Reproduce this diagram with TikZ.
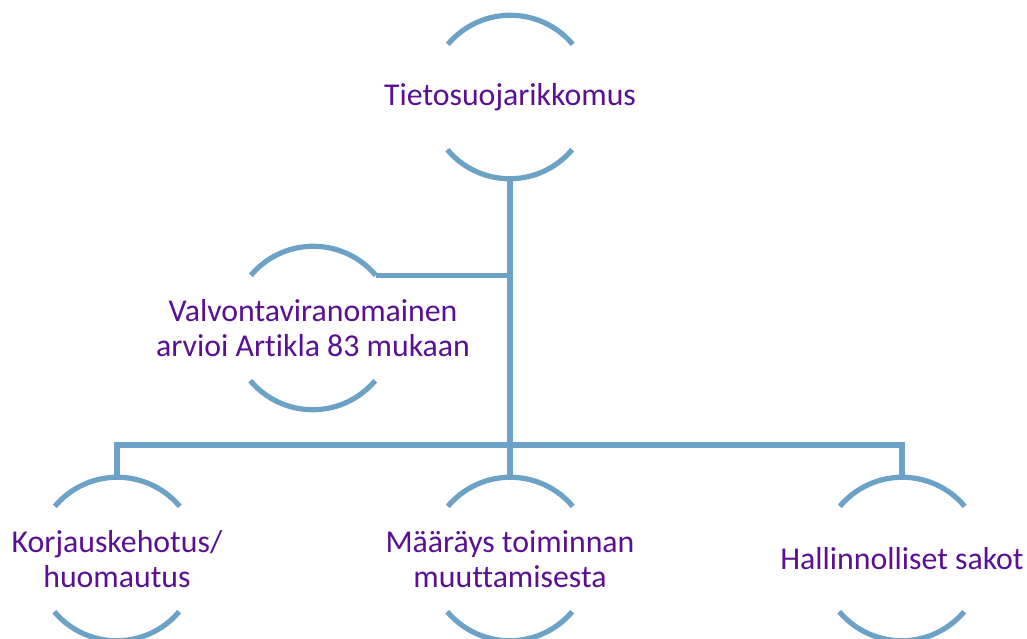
\documentclass[tikz,border=0pt]{standalone}
\usepackage{fontspec}
\setmainfont{Carlito}[Ligatures=NoCommon]
\usepackage{tikz}
\usetikzlibrary{calc}
\definecolor{RingBlue}{RGB}{107,162,197}
\definecolor{TextPurple}{RGB}{90,16,146}

\begin{document}
\begin{tikzpicture}[
    x=0.5pt, y=0.5pt,
    ring/.style={circle, minimum size=81.5pt, inner sep=0pt},
    lbl/.style={text=TextPurple, align=center, inner sep=0pt,
                font=\fontsize{15.9}{17.8}\selectfont},
    arcline/.style={draw=RingBlue, line width=2.6pt},
    link/.style={draw=RingBlue, line width=2.6pt}
]
\useasboundingbox (0,0) rectangle (1027,638);

% Top
\node[ring, label={[lbl]center:Tietosuojarikkomus}] (rikkomus) at (510,541) {};

% Middle assistant
\node[ring, label={[lbl]center:Valvontaviranomainen\\arvioi Artikla 83 mukaan}] (arvio) at (313,310) {};

% Bottom row
\node[ring, label={[lbl]center:Korjauskehotus/\\huomautus}] (korjaus) at (117,79) {};
\node[ring, label={[lbl]center:Määräys toiminnan\\muuttamisesta}] (maarays) at (510,79) {};
\node[ring, label={[lbl]center:Hallinnolliset sakot}] (sakot) at (902,79) {};

% Ring arcs
\foreach \n in {rikkomus,arvio,korjaus,maarays,sakot}{
  \draw[arcline] (\n.40) arc[start angle=40, end angle=140, radius=40.75pt];
  \draw[arcline] (\n.220) arc[start angle=220, end angle=320, radius=40.75pt];
}

% Connectors
\coordinate (bar) at (510,193);
\draw[link] (rikkomus.south) -- (maarays.north);
\draw[link] (arvio.40) -- (arvio.40 -| rikkomus.south);
\draw[link] (korjaus.north) |- (bar) -| (sakot.north);

\end{tikzpicture}
\end{document}
